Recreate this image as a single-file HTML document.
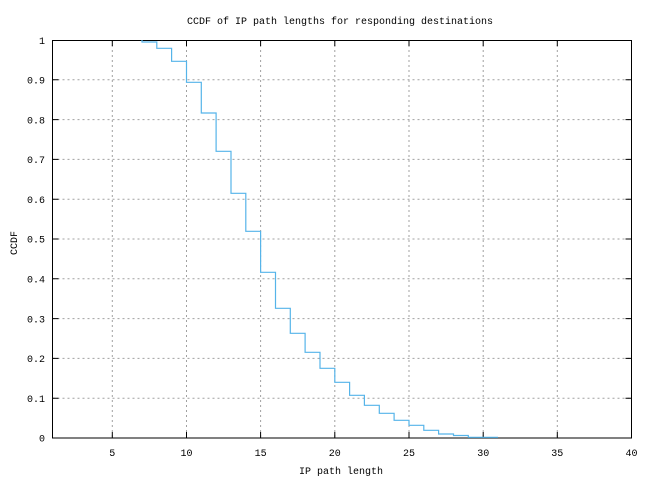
<!DOCTYPE html>
<html><head><meta charset="utf-8"><style>
html,body{margin:0;padding:0;background:#fff;}
svg{display:block;}
text{font-family:"Liberation Mono","DejaVu Sans Mono",monospace;font-size:10px;fill:#000;}
</style></head><body>
<svg width="650" height="480" viewBox="0 0 650 480" xmlns="http://www.w3.org/2000/svg">
<rect width="650" height="480" fill="#fff"/>
<g stroke="#a0a0a0" stroke-width="1" stroke-dasharray="2,3">
<path d="M112.3 40V438M186.5 40V438M260.6 40V438M334.8 40V438M409 40V438M483.2 40V438M557.3 40V438"/>
<path d="M52.5 398.2H631.5M52.5 358.4H631.5M52.5 318.6H631.5M52.5 278.8H631.5M52.5 239H631.5M52.5 199.2H631.5M52.5 159.4H631.5M52.5 119.6H631.5M52.5 79.8H631.5"/>
</g>
<g stroke="#000" stroke-width="1">
<rect x="52.5" y="40.5" width="579" height="397.5" fill="none"/>
<path d="M112.3 438v-6M186.5 438v-6M260.6 438v-6M334.8 438v-6M409 438v-6M483.2 438v-6M557.3 438v-6
M112.3 40v6M186.5 40v6M260.6 40v6M334.8 40v6M409 40v6M483.2 40v6M557.3 40v6
M52.5 398.2h6M52.5 358.4h6M52.5 318.6h6M52.5 278.8h6M52.5 239h6M52.5 199.2h6M52.5 159.4h6M52.5 119.6h6M52.5 79.8h6
M631.5 398.2h-6M631.5 358.4h-6M631.5 318.6h-6M631.5 278.8h-6M631.5 239h-6M631.5 199.2h-6M631.5 159.4h-6M631.5 119.6h-6M631.5 79.8h-6"/>
</g>
<path fill="none" stroke="#56b4e9" stroke-width="1.2" d="M142 40V42H156.8V48.3H171.6V61.3H186.5V82.3H201.3V113H216.1V151.3H231V193.3H245.8V231.3H260.6V272.3H275.5V308.3H290.3V333.3H305.1V352.3H320V368.3H334.8V382.3H349.6V395.3H364.4V405.3H379.3V413.3H394.1V420.3H409V425.3H423.8V430.3H438.6V434H453.5V435.5H468.3V437.3H498"/>
<g text-anchor="end">
<text x="45" y="44">1</text><text x="45" y="83.5">0.9</text><text x="45" y="123.3">0.8</text><text x="45" y="163">0.7</text><text x="45" y="203">0.6</text><text x="45" y="242.7">0.5</text><text x="45" y="282.5">0.4</text><text x="45" y="322.3">0.3</text><text x="45" y="362">0.2</text><text x="45" y="402">0.1</text><text x="45" y="441.7">0</text>
</g>
<g text-anchor="middle">
<text x="112.3" y="456">5</text><text x="186.5" y="456">10</text><text x="260.6" y="456">15</text><text x="334.8" y="456">20</text><text x="409" y="456">25</text><text x="483.2" y="456">30</text><text x="557.3" y="456">35</text><text x="631.5" y="456">40</text>
<text x="341" y="474">IP path length</text>
<text x="340" y="24">CCDF of IP path lengths for responding destinations</text>
<text transform="translate(17,243) rotate(-90)">CCDF</text>
</g>
</svg>
</body></html>
